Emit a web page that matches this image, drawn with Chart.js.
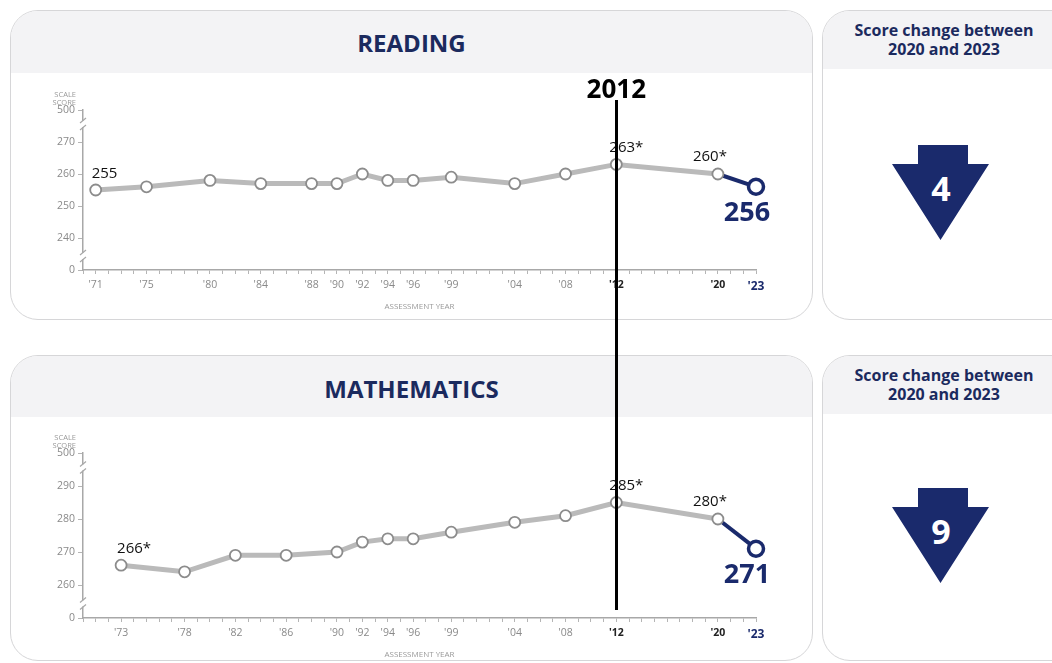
<!DOCTYPE html>
<html>
<head>
<meta charset="utf-8">
<script src="https://cdn.jsdelivr.net/npm/chart.js@4.4.1/dist/chart.umd.min.js"></script>
<style>
  html, body { margin:0; padding:0; background:#fff; width:1052px; height:663px; overflow:hidden; font-family:"Open Sans", sans-serif; }
  .panel { position:absolute; border:1.5px solid #d6d6d8; border-radius:28px; background:#fff; overflow:hidden; box-sizing:border-box; }
  .head { position:absolute; left:0; top:0; right:0; background:#f3f3f5; }
  .title { position:absolute; left:0; right:0; text-align:center; font-weight:700; color:#1b2a5e; font-size:24px; line-height:30px; }
  .side-title { position:absolute; left:0; width:242px; text-align:center; font-weight:700; color:#1b2a5e; font-size:16px; line-height:19px; }
  canvas { position:absolute; }
  #vline { position:absolute; width:3px; background:#000; }
  #vlabel { position:absolute; font-weight:700; font-size:26px; color:#000; text-align:center; width:100px; }
  .arrow { position:absolute; }
</style>
</head>
<body>
<div class="panel" style="left:10px;top:10px;width:803px;height:310px;">
  <div class="head" style="height:62px;"></div>
  <div class="title" style="top:17px;">READING</div>
</div>
<div class="panel" style="left:10px;top:355px;width:803px;height:306px;">
  <div class="head" style="height:61px;"></div>
  <div class="title" style="top:18px;">MATHEMATICS</div>
</div>
<div class="panel" style="left:822px;top:10px;width:262px;height:310px;">
  <div class="head" style="height:58px;"></div>
  <div class="side-title" style="top:10px;">Score change between<br>2020 and 2023</div>
  <svg class="arrow" id="arrowR" style="left:69px;top:134px;" width="98" height="95"></svg>
</div>
<div class="panel" style="left:822px;top:355px;width:262px;height:306px;">
  <div class="head" style="height:58px;"></div>
  <div class="side-title" style="top:10px;">Score change between<br>2020 and 2023</div>
  <svg class="arrow" id="arrowM" style="left:69px;top:132px;" width="98" height="95"></svg>
</div>

<canvas id="cR" style="left:20px;top:75px;" width="780" height="240"></canvas>
<canvas id="cM" style="left:20px;top:420px;" width="780" height="243"></canvas>
<div id="vline"></div>
<div id="vlabel">2012</div>

<script>
// ---------- DATA ----------
const readingYears  = [1971, 1975, 1980, 1984, 1988, 1990, 1992, 1994, 1996, 1999, 2004, 2008, 2012, 2020, 2023];
const readingScores = [255,  256,  258,  257,  257,  257,  260,  258,  258,  259,  257,  260,  263,  260,  256];
const readingLabels = ['255','','','','','','','','','','','','263*','260*','256'];
const readingTickValues = [230, 240, 250, 260, 270, 280];
const readingTickLabels = ['0', '240', '250', '260', '270', '500'];

const mathYears  = [1973, 1978, 1982, 1986, 1990, 1992, 1994, 1996, 1999, 2004, 2008, 2012, 2020, 2023];
const mathScores = [266,  264,  269,  269,  270,  273,  274,  274,  276,  279,  281,  285,  280,  271];
const mathLabels = ['266*','','','','','','','','','','','285*','280*','271'];
const mathTickValues = [250, 260, 270, 280, 290, 300];
const mathTickLabels = ['0', '260', '270', '280', '290', '500'];

const xMin = 1970, xMax = 2023;
const highlightYear = 2012;

// ---------- STYLE ----------
const NAVY = '#1a2a6c';
const GRAY_LINE = '#bababa';
const GRAY_PT = '#8c8c8c';
const AXIS = '#a8a8a8';
const TICKTXT = '#8a8a8a';

function yearLabel(y){ return "'" + String(y).slice(2); }

const pointLabelPlugin = {
  id: 'pointLabels',
  afterDatasetsDraw(chart, args, opts) {
    const ctx = chart.ctx;
    const meta = chart.getDatasetMeta(0);
    const labels = opts.labels;
    const n = labels.length;
    ctx.save();
    meta.data.forEach((pt, i) => {
      const t = labels[i];
      if (!t) return;
      ctx.textBaseline = 'middle';
      if (i === n - 1) {
        ctx.font = '700 27px "Open Sans", sans-serif';
        ctx.fillStyle = NAVY;
        ctx.textAlign = 'center';
        ctx.fillText(t, pt.x - 9, pt.y + 27);
      } else if (i === 0) {
        ctx.font = '400 15px "Open Sans", sans-serif';
        ctx.fillStyle = '#111';
        ctx.textAlign = 'left';
        ctx.fillText(t, pt.x - 4, pt.y - 16);
      } else {
        ctx.font = '400 15px "Open Sans", sans-serif';
        ctx.fillStyle = '#111';
        ctx.textAlign = 'center';
        ctx.fillText(t, pt.x + (i === n - 2 ? -8 : 10), pt.y - 17);
      }
    });
    ctx.restore();
  }
};

const axisDecorPlugin = {
  id: 'axisDecor',
  afterDraw(chart) {
    const ctx = chart.ctx;
    const y = chart.scales.y;
    const x0 = y.right;
    const vals = chart.options.scales.y.afterBuildTicks.vals;
    const yTop = y.getPixelForValue(vals[vals.length - 1]);
    const yNext = y.getPixelForValue(vals[vals.length - 2]);
    const yBot = y.getPixelForValue(vals[0]);
    const yPrev = y.getPixelForValue(vals[1]);
    ctx.save();
    [ (yTop + yNext) / 2 - 2, (yBot + yPrev) / 2 + 2 ].forEach(by => {
      ctx.fillStyle = '#fff';
      ctx.fillRect(x0 - 4, by - 3, 8, 6);
      ctx.strokeStyle = AXIS;
      ctx.lineWidth = 1.2;
      ctx.beginPath();
      ctx.moveTo(x0 - 3, by - 1); ctx.lineTo(x0 + 3, by - 6);
      ctx.moveTo(x0 - 3, by + 6); ctx.lineTo(x0 + 3, by + 1);
      ctx.stroke();
    });
    ctx.fillStyle = '#9a9a9a';
    ctx.font = '400 7.5px "Open Sans", sans-serif';
    ctx.textAlign = 'right';
    ctx.textBaseline = 'middle';
    ctx.fillText('SCALE', x0 - 7, yTop - 15);
    ctx.fillText('SCORE', x0 - 7, yTop - 7);
    ctx.restore();
  }
};

function makeChart(canvasId, years, scores, labels, tickVals, tickLabels, padTop) {
  const n = scores.length;
  const data = years.map((yr, i) => ({ x: yr, y: scores[i] }));
  const tickYears = new Set(years);
  const afterBuildTicks = function(scale){ scale.ticks = tickVals.map(v => ({ value: v })); };
  afterBuildTicks.vals = tickVals;
  return new Chart(document.getElementById(canvasId), {
    type: 'line',
    data: {
      datasets: [{
        data,
        borderColor: GRAY_LINE,
        borderWidth: 5,
        tension: 0,
        segment: {
          borderColor: c => c.p1DataIndex === n - 1 ? NAVY : undefined,
          borderWidth: c => c.p1DataIndex === n - 1 ? 4 : undefined
        },
        pointRadius: c => c.dataIndex === n - 1 ? 7.5 : 5.5,
        pointBackgroundColor: '#fff',
        pointBorderColor: c => c.dataIndex === n - 1 ? NAVY : GRAY_PT,
        pointBorderWidth: c => c.dataIndex === n - 1 ? 3.5 : 1.8,
        clip: false
      }]
    },
    options: {
      responsive: false,
      animation: false,
      events: [],
      layout: { padding: { top: padTop, right: 44, left: 0, bottom: 0 } },
      plugins: { legend: { display: false }, tooltip: { enabled: false }, pointLabels: { labels } },
      scales: {
        x: {
          type: 'linear',
          min: xMin, max: xMax,
          afterFit(s){ s.height = 45; },
          afterBuildTicks(s){ const t=[]; for (let v=xMin; v<=xMax; v++) t.push({value:v}); s.ticks = t; },
          border: { display: true, color: AXIS, width: 1.5 },
          grid: { drawOnChartArea: false, drawTicks: true, tickLength: 4, color: '#b5b5b5', lineWidth: 1 },
          ticks: {
            autoSkip: false, maxRotation: 0, padding: 5,
            callback: v => tickYears.has(v) ? yearLabel(v) : '',
            color: c => c.tick && c.tick.value === years[n-1] ? NAVY : (c.tick && (c.tick.value === highlightYear || c.tick.value === years[n-2]) ? '#222' : TICKTXT),
            font: c => ({ family: '"Open Sans", sans-serif', size: (c.tick && c.tick.value === years[n-1]) ? 12 : 10.5, weight: (c.tick && c.tick.value >= highlightYear) ? '700' : '400' })
          },
          title: { display: true, text: 'ASSESSMENT YEAR', color: '#9a9a9a', font: { family: '"Open Sans", sans-serif', size: 8 }, padding: { top: 0, bottom: 3 } }
        },
        y: {
          type: 'linear',
          min: tickVals[0], max: tickVals[tickVals.length - 1],
          afterFit(s){ s.width = 63; },
          afterBuildTicks,
          border: { display: true, color: AXIS, width: 1.5 },
          grid: { drawOnChartArea: false, drawTicks: true, tickLength: 5, color: '#b5b5b5' },
          ticks: {
            padding: 3,
            color: TICKTXT,
            font: { family: '"Open Sans", sans-serif', size: 10.5 },
            callback: v => tickLabels[tickVals.indexOf(v)]
          }
        }
      }
    },
    plugins: [pointLabelPlugin, axisDecorPlugin]
  });
}

const chartR = makeChart('cR', readingYears, readingScores, readingLabels, readingTickValues, readingTickLabels, 35);
const chartM = makeChart('cM', mathYears, mathScores, mathLabels, mathTickValues, mathTickLabels, 33);

// 2012 overlay line, positioned via the chart's x scale
const lx = 20 + chartR.scales.x.getPixelForValue(highlightYear);
const vline = document.getElementById('vline');
vline.style.left = (lx - 1.5) + 'px';
vline.style.top = '100px';
vline.style.height = '510px';
const vlabel = document.getElementById('vlabel');
vlabel.style.left = (lx - 50) + 'px';
vlabel.style.top = '70px';
vlabel.textContent = String(highlightYear);

// change arrows
function drawArrow(id, change) {
  const svg = document.getElementById(id);
  svg.innerHTML =
    '<polygon points="26,0 76,0 76,19 97,19 48.5,95 0,19 26,19" fill="' + NAVY + '"/>' +
    '<text x="49" y="47" text-anchor="middle" dominant-baseline="middle" font-family="Open Sans, sans-serif" font-weight="700" font-size="34" fill="#fff">' + change + '</text>';
}
drawArrow('arrowR', readingScores[readingScores.length - 2] - readingScores[readingScores.length - 1]);
drawArrow('arrowM', mathScores[mathScores.length - 2] - mathScores[mathScores.length - 1]);
</script>
</body>
</html>
